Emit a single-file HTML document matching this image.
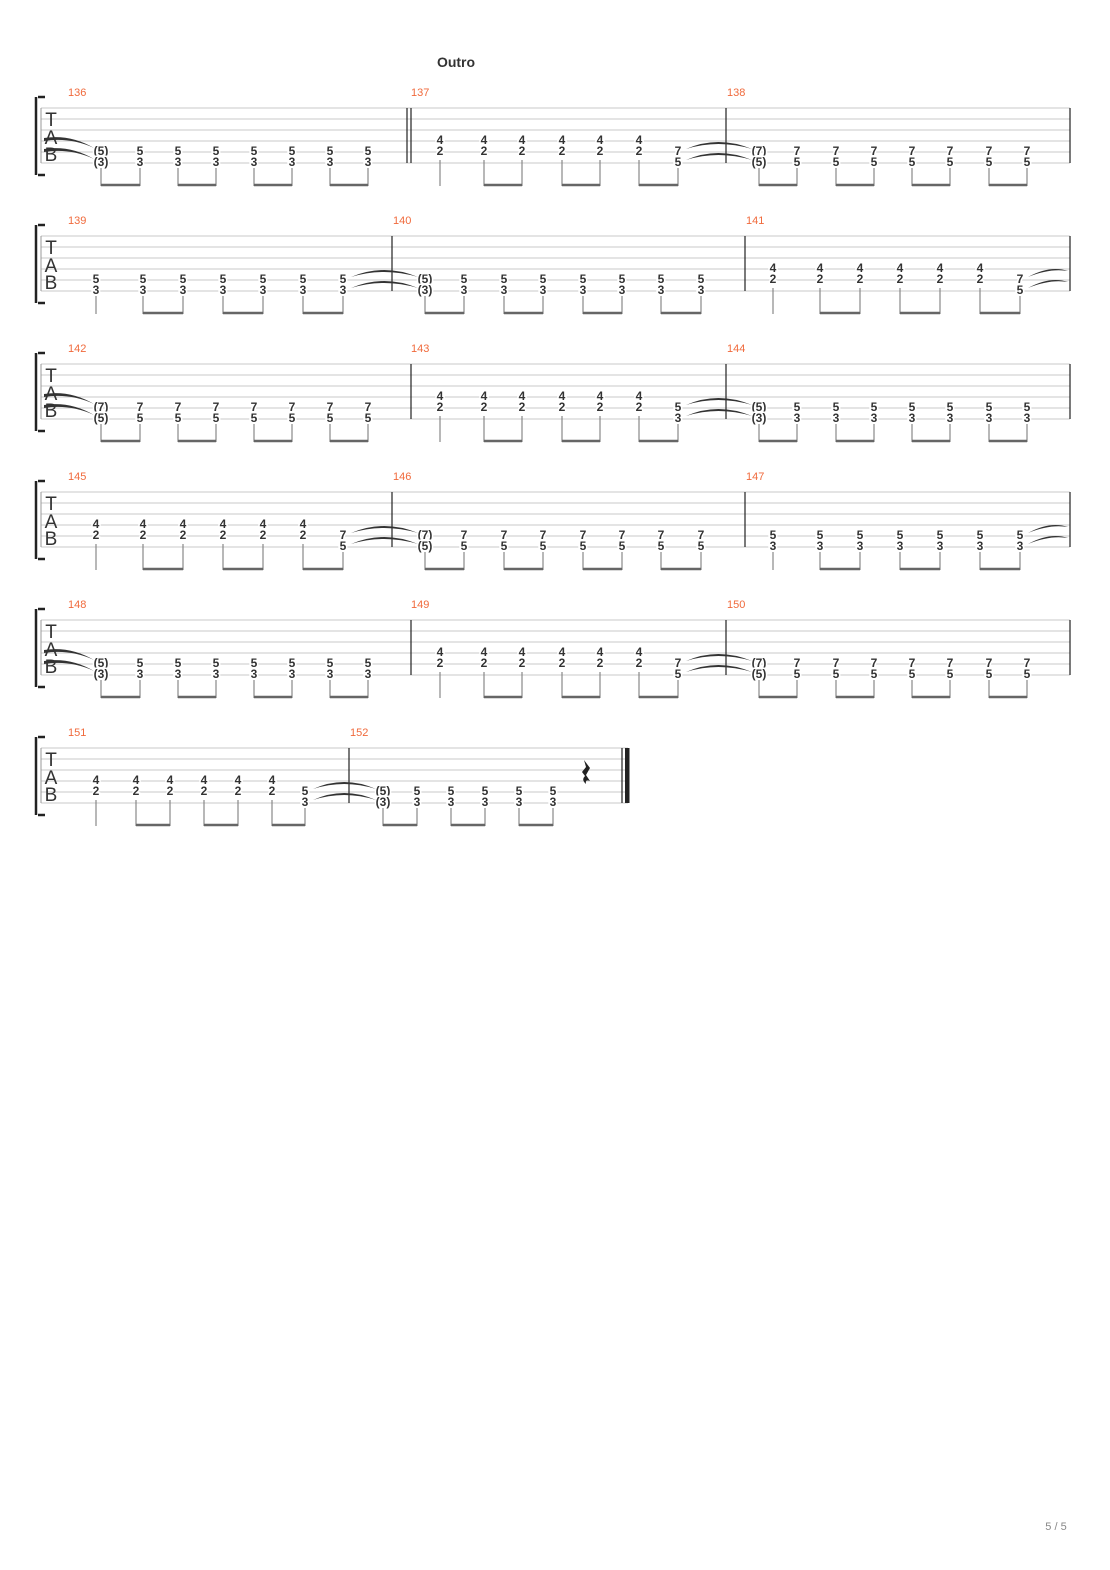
<!DOCTYPE html>
<html><head><meta charset="utf-8"><style>
html,body{margin:0;padding:0;background:#fff}
svg{display:block}
.n{font-family:"Liberation Sans",sans-serif;font-size:12px;font-weight:bold;fill:#333;text-anchor:middle;paint-order:stroke;stroke:#fff;stroke-width:3px}
.m{font-family:"Liberation Sans",sans-serif;font-size:11px;fill:#f06a3c}
.tab{font-family:"Liberation Sans",sans-serif;font-size:19px;fill:#333;text-anchor:middle}
.st{stroke:#c8c8c8;stroke-width:1;fill:none}
.stem{stroke:#888;stroke-width:1.2;fill:none}
.beam{stroke:#666;stroke-width:2.6;fill:none}
.bar{stroke:#222;stroke-width:1.2}
.tie{fill:#333}
</style></head><body>
<svg width="1110" height="1570" viewBox="0 0 1110 1570" xmlns="http://www.w3.org/2000/svg">
<text x="456" y="67" style="font-family:'Liberation Sans',sans-serif;font-size:14px;font-weight:bold;fill:#333" text-anchor="middle">Outro</text>
<text x="1056" y="1530" style="font-family:'Liberation Sans',sans-serif;font-size:11px;fill:#888" text-anchor="middle">5 / 5</text>

<!-- SYSTEM 1 -->
<g transform="translate(0,108)">
<path d="M38 -11 H45 M36 -11 V67 M38 67 H45" stroke="#222" stroke-width="2.5" fill="none"/>
<path class="st" d="M41 0H1070M41 11H1070M41 22H1070M41 33H1070M41 44H1070M41 55H1070"/>
<line x1="41" y1="0" x2="41" y2="55" stroke="#999"/>
<text class="tab" x="51" y="18">T</text><text class="tab" x="51" y="36">A</text><text class="tab" x="51" y="53">B</text>
<path class="tie" d="M44 30 Q70 26 94 40 Q70 29 44 33Z M44 41 Q70 37 94 51 Q70 40 44 44Z"/>
<line class="bar" x1="407" y1="0" x2="407" y2="55"/><line class="bar" x1="411" y1="0" x2="411" y2="55"/>
<line class="bar" x1="726" y1="0" x2="726" y2="55"/><line class="bar" x1="1070" y1="0" x2="1070" y2="55"/>
<text class="m" x="68" y="-12">136</text><text class="m" x="411" y="-12">137</text><text class="m" x="727" y="-12">138</text>
<g class="n">
<text x="101" y="47">(5)</text><text x="101" y="58">(3)</text>
<text x="140" y="47">5</text><text x="140" y="58">3</text><text x="178" y="47">5</text><text x="178" y="58">3</text>
<text x="216" y="47">5</text><text x="216" y="58">3</text><text x="254" y="47">5</text><text x="254" y="58">3</text>
<text x="292" y="47">5</text><text x="292" y="58">3</text><text x="330" y="47">5</text><text x="330" y="58">3</text>
<text x="368" y="47">5</text><text x="368" y="58">3</text>
<text x="440" y="36">4</text><text x="440" y="47">2</text><text x="484" y="36">4</text><text x="484" y="47">2</text>
<text x="522" y="36">4</text><text x="522" y="47">2</text><text x="562" y="36">4</text><text x="562" y="47">2</text>
<text x="600" y="36">4</text><text x="600" y="47">2</text><text x="639" y="36">4</text><text x="639" y="47">2</text>
<text x="678" y="47">7</text><text x="678" y="58">5</text>
<text x="759" y="47">(7)</text><text x="759" y="58">(5)</text>
<text x="797" y="47">7</text><text x="797" y="58">5</text><text x="836" y="47">7</text><text x="836" y="58">5</text>
<text x="874" y="47">7</text><text x="874" y="58">5</text><text x="912" y="47">7</text><text x="912" y="58">5</text>
<text x="950" y="47">7</text><text x="950" y="58">5</text><text x="989" y="47">7</text><text x="989" y="58">5</text>
<text x="1027" y="47">7</text><text x="1027" y="58">5</text>
</g>
<path class="tie" d="M686 41 Q718 27 752 41 Q718 31 686 41Z M686 52 Q718 38 752 52 Q718 42 686 52Z"/>
<path class="stem" d="M101 60V78M140 60V78M178 60V78M216 60V78M254 60V78M292 60V78M330 60V78M368 60V78M440 52V78M484 52V78M522 52V78M562 52V78M600 52V78M639 52V78M678 60V78M759 60V78M797 60V78M836 60V78M874 60V78M912 60V78M950 60V78M989 60V78M1027 60V78"/>
<path class="beam" d="M101 77H140M178 77H216M254 77H292M330 77H368M484 77H522M562 77H600M639 77H678M759 77H797M836 77H874M912 77H950M989 77H1027"/>
</g>

<!-- SYSTEM 2 -->
<g transform="translate(0,236)">
<path d="M38 -11 H45 M36 -11 V67 M38 67 H45" stroke="#222" stroke-width="2.5" fill="none"/>
<path class="st" d="M41 0H1070M41 11H1070M41 22H1070M41 33H1070M41 44H1070M41 55H1070"/>
<line x1="41" y1="0" x2="41" y2="55" stroke="#999"/>
<text class="tab" x="51" y="18">T</text><text class="tab" x="51" y="36">A</text><text class="tab" x="51" y="53">B</text>
<line class="bar" x1="392" y1="0" x2="392" y2="55"/><line class="bar" x1="745" y1="0" x2="745" y2="55"/><line class="bar" x1="1070" y1="0" x2="1070" y2="55"/>
<text class="m" x="68" y="-12">139</text><text class="m" x="393" y="-12">140</text><text class="m" x="746" y="-12">141</text>
<g class="n">
<text x="96" y="47">5</text><text x="96" y="58">3</text><text x="143" y="47">5</text><text x="143" y="58">3</text>
<text x="183" y="47">5</text><text x="183" y="58">3</text><text x="223" y="47">5</text><text x="223" y="58">3</text>
<text x="263" y="47">5</text><text x="263" y="58">3</text><text x="303" y="47">5</text><text x="303" y="58">3</text>
<text x="343" y="47">5</text><text x="343" y="58">3</text>
<text x="425" y="47">(5)</text><text x="425" y="58">(3)</text>
<text x="464" y="47">5</text><text x="464" y="58">3</text><text x="504" y="47">5</text><text x="504" y="58">3</text>
<text x="543" y="47">5</text><text x="543" y="58">3</text><text x="583" y="47">5</text><text x="583" y="58">3</text>
<text x="622" y="47">5</text><text x="622" y="58">3</text><text x="661" y="47">5</text><text x="661" y="58">3</text>
<text x="701" y="47">5</text><text x="701" y="58">3</text>
<text x="773" y="36">4</text><text x="773" y="47">2</text><text x="820" y="36">4</text><text x="820" y="47">2</text>
<text x="860" y="36">4</text><text x="860" y="47">2</text><text x="900" y="36">4</text><text x="900" y="47">2</text>
<text x="940" y="36">4</text><text x="940" y="47">2</text><text x="980" y="36">4</text><text x="980" y="47">2</text>
<text x="1020" y="47">7</text><text x="1020" y="58">5</text>
</g>
<path class="tie" d="M351 41 Q384 27 418 41 Q384 31 351 41Z M351 52 Q384 38 418 52 Q384 42 351 52Z"/>
<path class="tie" d="M1028 41 Q1050 29 1068 35 Q1050 32 1028 41Z M1028 52 Q1050 40 1068 46 Q1050 43 1028 52Z"/>
<path class="stem" d="M96 60V78M143 60V78M183 60V78M223 60V78M263 60V78M303 60V78M343 60V78M425 60V78M464 60V78M504 60V78M543 60V78M583 60V78M622 60V78M661 60V78M701 60V78M773 52V78M820 52V78M860 52V78M900 52V78M940 52V78M980 52V78M1020 60V78"/>
<path class="beam" d="M143 77H183M223 77H263M303 77H343M425 77H464M504 77H543M583 77H622M661 77H701M820 77H860M900 77H940M980 77H1020"/>
</g>

<!-- SYSTEM 3 -->
<g transform="translate(0,364)">
<path d="M38 -11 H45 M36 -11 V67 M38 67 H45" stroke="#222" stroke-width="2.5" fill="none"/>
<path class="st" d="M41 0H1070M41 11H1070M41 22H1070M41 33H1070M41 44H1070M41 55H1070"/>
<line x1="41" y1="0" x2="41" y2="55" stroke="#999"/>
<text class="tab" x="51" y="18">T</text><text class="tab" x="51" y="36">A</text><text class="tab" x="51" y="53">B</text>
<path class="tie" d="M44 30 Q70 26 94 40 Q70 29 44 33Z M44 41 Q70 37 94 51 Q70 40 44 44Z"/>
<line class="bar" x1="411" y1="0" x2="411" y2="55"/><line class="bar" x1="726" y1="0" x2="726" y2="55"/><line class="bar" x1="1070" y1="0" x2="1070" y2="55"/>
<text class="m" x="68" y="-12">142</text><text class="m" x="411" y="-12">143</text><text class="m" x="727" y="-12">144</text>
<g class="n">
<text x="101" y="47">(7)</text><text x="101" y="58">(5)</text>
<text x="140" y="47">7</text><text x="140" y="58">5</text><text x="178" y="47">7</text><text x="178" y="58">5</text>
<text x="216" y="47">7</text><text x="216" y="58">5</text><text x="254" y="47">7</text><text x="254" y="58">5</text>
<text x="292" y="47">7</text><text x="292" y="58">5</text><text x="330" y="47">7</text><text x="330" y="58">5</text>
<text x="368" y="47">7</text><text x="368" y="58">5</text>
<text x="440" y="36">4</text><text x="440" y="47">2</text><text x="484" y="36">4</text><text x="484" y="47">2</text>
<text x="522" y="36">4</text><text x="522" y="47">2</text><text x="562" y="36">4</text><text x="562" y="47">2</text>
<text x="600" y="36">4</text><text x="600" y="47">2</text><text x="639" y="36">4</text><text x="639" y="47">2</text>
<text x="678" y="47">5</text><text x="678" y="58">3</text>
<text x="759" y="47">(5)</text><text x="759" y="58">(3)</text>
<text x="797" y="47">5</text><text x="797" y="58">3</text><text x="836" y="47">5</text><text x="836" y="58">3</text>
<text x="874" y="47">5</text><text x="874" y="58">3</text><text x="912" y="47">5</text><text x="912" y="58">3</text>
<text x="950" y="47">5</text><text x="950" y="58">3</text><text x="989" y="47">5</text><text x="989" y="58">3</text>
<text x="1027" y="47">5</text><text x="1027" y="58">3</text>
</g>
<path class="tie" d="M686 41 Q718 27 752 41 Q718 31 686 41Z M686 52 Q718 38 752 52 Q718 42 686 52Z"/>
<path class="stem" d="M101 60V78M140 60V78M178 60V78M216 60V78M254 60V78M292 60V78M330 60V78M368 60V78M440 52V78M484 52V78M522 52V78M562 52V78M600 52V78M639 52V78M678 60V78M759 60V78M797 60V78M836 60V78M874 60V78M912 60V78M950 60V78M989 60V78M1027 60V78"/>
<path class="beam" d="M101 77H140M178 77H216M254 77H292M330 77H368M484 77H522M562 77H600M639 77H678M759 77H797M836 77H874M912 77H950M989 77H1027"/>
</g>

<!-- SYSTEM 4 -->
<g transform="translate(0,492)">
<path d="M38 -11 H45 M36 -11 V67 M38 67 H45" stroke="#222" stroke-width="2.5" fill="none"/>
<path class="st" d="M41 0H1070M41 11H1070M41 22H1070M41 33H1070M41 44H1070M41 55H1070"/>
<line x1="41" y1="0" x2="41" y2="55" stroke="#999"/>
<text class="tab" x="51" y="18">T</text><text class="tab" x="51" y="36">A</text><text class="tab" x="51" y="53">B</text>
<line class="bar" x1="392" y1="0" x2="392" y2="55"/><line class="bar" x1="745" y1="0" x2="745" y2="55"/><line class="bar" x1="1070" y1="0" x2="1070" y2="55"/>
<text class="m" x="68" y="-12">145</text><text class="m" x="393" y="-12">146</text><text class="m" x="746" y="-12">147</text>
<g class="n">
<text x="96" y="36">4</text><text x="96" y="47">2</text><text x="143" y="36">4</text><text x="143" y="47">2</text>
<text x="183" y="36">4</text><text x="183" y="47">2</text><text x="223" y="36">4</text><text x="223" y="47">2</text>
<text x="263" y="36">4</text><text x="263" y="47">2</text><text x="303" y="36">4</text><text x="303" y="47">2</text>
<text x="343" y="47">7</text><text x="343" y="58">5</text>
<text x="425" y="47">(7)</text><text x="425" y="58">(5)</text>
<text x="464" y="47">7</text><text x="464" y="58">5</text><text x="504" y="47">7</text><text x="504" y="58">5</text>
<text x="543" y="47">7</text><text x="543" y="58">5</text><text x="583" y="47">7</text><text x="583" y="58">5</text>
<text x="622" y="47">7</text><text x="622" y="58">5</text><text x="661" y="47">7</text><text x="661" y="58">5</text>
<text x="701" y="47">7</text><text x="701" y="58">5</text>
<text x="773" y="47">5</text><text x="773" y="58">3</text><text x="820" y="47">5</text><text x="820" y="58">3</text>
<text x="860" y="47">5</text><text x="860" y="58">3</text><text x="900" y="47">5</text><text x="900" y="58">3</text>
<text x="940" y="47">5</text><text x="940" y="58">3</text><text x="980" y="47">5</text><text x="980" y="58">3</text>
<text x="1020" y="47">5</text><text x="1020" y="58">3</text>
</g>
<path class="tie" d="M351 41 Q384 27 418 41 Q384 31 351 41Z M351 52 Q384 38 418 52 Q384 42 351 52Z"/>
<path class="tie" d="M1028 41 Q1050 29 1068 35 Q1050 32 1028 41Z M1028 52 Q1050 40 1068 46 Q1050 43 1028 52Z"/>
<path class="stem" d="M96 52V78M143 52V78M183 52V78M223 52V78M263 52V78M303 52V78M343 60V78M425 60V78M464 60V78M504 60V78M543 60V78M583 60V78M622 60V78M661 60V78M701 60V78M773 60V78M820 60V78M860 60V78M900 60V78M940 60V78M980 60V78M1020 60V78"/>
<path class="beam" d="M143 77H183M223 77H263M303 77H343M425 77H464M504 77H543M583 77H622M661 77H701M820 77H860M900 77H940M980 77H1020"/>
</g>

<!-- SYSTEM 5 -->
<g transform="translate(0,620)">
<path d="M38 -11 H45 M36 -11 V67 M38 67 H45" stroke="#222" stroke-width="2.5" fill="none"/>
<path class="st" d="M41 0H1070M41 11H1070M41 22H1070M41 33H1070M41 44H1070M41 55H1070"/>
<line x1="41" y1="0" x2="41" y2="55" stroke="#999"/>
<text class="tab" x="51" y="18">T</text><text class="tab" x="51" y="36">A</text><text class="tab" x="51" y="53">B</text>
<path class="tie" d="M44 30 Q70 26 94 40 Q70 29 44 33Z M44 41 Q70 37 94 51 Q70 40 44 44Z"/>
<line class="bar" x1="411" y1="0" x2="411" y2="55"/><line class="bar" x1="726" y1="0" x2="726" y2="55"/><line class="bar" x1="1070" y1="0" x2="1070" y2="55"/>
<text class="m" x="68" y="-12">148</text><text class="m" x="411" y="-12">149</text><text class="m" x="727" y="-12">150</text>
<g class="n">
<text x="101" y="47">(5)</text><text x="101" y="58">(3)</text>
<text x="140" y="47">5</text><text x="140" y="58">3</text><text x="178" y="47">5</text><text x="178" y="58">3</text>
<text x="216" y="47">5</text><text x="216" y="58">3</text><text x="254" y="47">5</text><text x="254" y="58">3</text>
<text x="292" y="47">5</text><text x="292" y="58">3</text><text x="330" y="47">5</text><text x="330" y="58">3</text>
<text x="368" y="47">5</text><text x="368" y="58">3</text>
<text x="440" y="36">4</text><text x="440" y="47">2</text><text x="484" y="36">4</text><text x="484" y="47">2</text>
<text x="522" y="36">4</text><text x="522" y="47">2</text><text x="562" y="36">4</text><text x="562" y="47">2</text>
<text x="600" y="36">4</text><text x="600" y="47">2</text><text x="639" y="36">4</text><text x="639" y="47">2</text>
<text x="678" y="47">7</text><text x="678" y="58">5</text>
<text x="759" y="47">(7)</text><text x="759" y="58">(5)</text>
<text x="797" y="47">7</text><text x="797" y="58">5</text><text x="836" y="47">7</text><text x="836" y="58">5</text>
<text x="874" y="47">7</text><text x="874" y="58">5</text><text x="912" y="47">7</text><text x="912" y="58">5</text>
<text x="950" y="47">7</text><text x="950" y="58">5</text><text x="989" y="47">7</text><text x="989" y="58">5</text>
<text x="1027" y="47">7</text><text x="1027" y="58">5</text>
</g>
<path class="tie" d="M686 41 Q718 27 752 41 Q718 31 686 41Z M686 52 Q718 38 752 52 Q718 42 686 52Z"/>
<path class="stem" d="M101 60V78M140 60V78M178 60V78M216 60V78M254 60V78M292 60V78M330 60V78M368 60V78M440 52V78M484 52V78M522 52V78M562 52V78M600 52V78M639 52V78M678 60V78M759 60V78M797 60V78M836 60V78M874 60V78M912 60V78M950 60V78M989 60V78M1027 60V78"/>
<path class="beam" d="M101 77H140M178 77H216M254 77H292M330 77H368M484 77H522M562 77H600M639 77H678M759 77H797M836 77H874M912 77H950M989 77H1027"/>
</g>

<!-- SYSTEM 6 -->
<g transform="translate(0,748)">
<path d="M38 -11 H45 M36 -11 V67 M38 67 H45" stroke="#222" stroke-width="2.5" fill="none"/>
<path class="st" d="M41 0H628M41 11H628M41 22H628M41 33H628M41 44H628M41 55H628"/>
<line x1="41" y1="0" x2="41" y2="55" stroke="#999"/>
<text class="tab" x="51" y="18">T</text><text class="tab" x="51" y="36">A</text><text class="tab" x="51" y="53">B</text>
<line class="bar" x1="349" y1="0" x2="349" y2="55"/>
<line class="bar" x1="622" y1="0" x2="622" y2="55"/><rect x="625" y="0" width="4.5" height="55" fill="#222"/>
<text class="m" x="68" y="-12">151</text><text class="m" x="350" y="-12">152</text>
<g class="n">
<text x="96" y="36">4</text><text x="96" y="47">2</text><text x="136" y="36">4</text><text x="136" y="47">2</text>
<text x="170" y="36">4</text><text x="170" y="47">2</text><text x="204" y="36">4</text><text x="204" y="47">2</text>
<text x="238" y="36">4</text><text x="238" y="47">2</text><text x="272" y="36">4</text><text x="272" y="47">2</text>
<text x="305" y="47">5</text><text x="305" y="58">3</text>
<text x="383" y="47">(5)</text><text x="383" y="58">(3)</text>
<text x="417" y="47">5</text><text x="417" y="58">3</text><text x="451" y="47">5</text><text x="451" y="58">3</text>
<text x="485" y="47">5</text><text x="485" y="58">3</text><text x="519" y="47">5</text><text x="519" y="58">3</text>
<text x="553" y="47">5</text><text x="553" y="58">3</text>
</g>
<path class="tie" d="M313 41 Q344 27 376 41 Q344 31 313 41Z M313 52 Q344 38 376 52 Q344 42 313 52Z"/>
<path d="M584 12 L590 20 L586 27 L590 33 Q585 31 586 36 Q581 32 585 28 L582 24 L586 19Z" fill="#222"/>
<path class="stem" d="M96 52V78M136 52V78M170 52V78M204 52V78M238 52V78M272 52V78M305 60V78M383 60V78M417 60V78M451 60V78M485 60V78M519 60V78M553 60V78"/>
<path class="beam" d="M136 77H170M204 77H238M272 77H305M383 77H417M451 77H485M519 77H553"/>
</g>
</svg>
</body></html>
